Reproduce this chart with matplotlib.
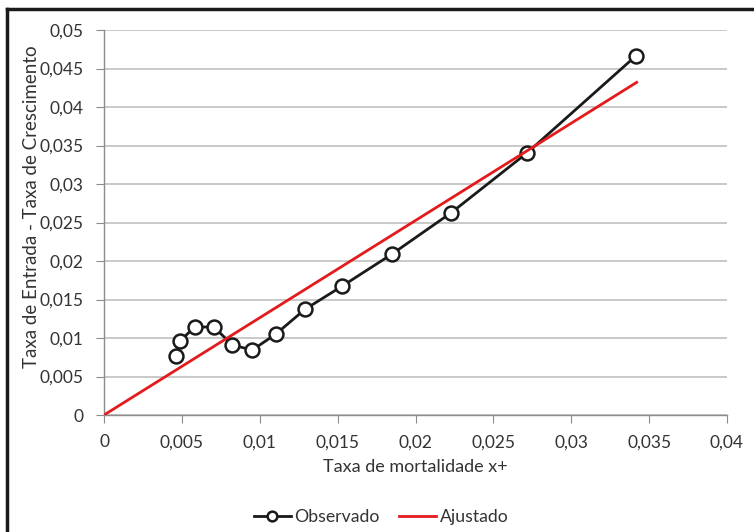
import matplotlib
matplotlib.use("Agg")
import matplotlib.pyplot as plt
from matplotlib.lines import Line2D

plt.rcParams['font.family'] = ['Lato', 'DejaVu Sans']

obs_x = [0.00462, 0.00488, 0.00584, 0.00708, 0.00824, 0.00952, 0.01104,
         0.0129, 0.0153, 0.01849, 0.0223, 0.02718, 0.03414]
obs_y = [0.00766, 0.0096, 0.01147, 0.01139, 0.00909, 0.00844, 0.01052,
         0.01372, 0.01675, 0.0209, 0.02628, 0.03407, 0.04662]
fit_x = [0.0, 0.0342]
fit_y = [0.0, 0.0432]

xticks = [0, 0.005, 0.01, 0.015, 0.02, 0.025, 0.03, 0.035, 0.04]
xtick_labels = ["0", "0,005", "0,01", "0,015", "0,02", "0,025", "0,03", "0,035", "0,04"]
yticks = [0, 0.005, 0.01, 0.015, 0.02, 0.025, 0.03, 0.035, 0.04, 0.045, 0.05]
ytick_labels = ["0", "0,005", "0,01", "0,015", "0,02", "0,025", "0,03", "0,035", "0,04", "0,045", "0,05"]

fig = plt.figure(figsize=(7.54, 5.32), dpi=100)
ax = fig.add_axes([104/754, 1-415/532, (727-104)/754, (415-30)/532])

ax.plot(obs_x, obs_y, color='#1a1a1a', lw=2.0, marker='o', ms=10,
        mfc='white', mec='#1a1a1a', mew=1.8, label='Observado', zorder=3)
ax.plot(fit_x, fit_y, color='#e41a1c', lw=2.0, label='Ajustado', zorder=4)

ax.set_xlim(0, 0.04)
ax.set_ylim(0, 0.05)
ax.set_xticks(xticks)
ax.set_xticklabels(xtick_labels)
ax.set_yticks(yticks)
ax.set_yticklabels(ytick_labels)
ax.yaxis.grid(True, color='#c0c0c0', lw=1.2)
ax.set_axisbelow(True)
for s in ['top', 'right']:
    ax.spines[s].set_visible(False)
for s in ['left', 'bottom']:
    ax.spines[s].set_color('#8c8c8c')
    ax.spines[s].set_linewidth(1.0)
ax.tick_params(axis='both', direction='out', length=6, color='#8c8c8c',
               labelsize=12.5, labelcolor='#333333')
ax.tick_params(axis='x', pad=8)
ax.tick_params(axis='y', pad=9)

ax.set_xlabel('Taxa de mortalidade x+', fontsize=13, color='#333333', va='center')
ax.set_ylabel('Taxa de Entrada - Taxa de Crescimento', fontsize=13.5, color='#333333', va='center')
ax.xaxis.set_label_coords((415 - 104) / 623, (415 - 467) / 385)
ax.yaxis.set_label_coords((32 - 104) / 623, (415 - 206.5) / 385)

leg = fig.legend(loc='center', bbox_to_anchor=(381/754, 1-517/532), ncol=2,
                 frameon=False, fontsize=12.7, handlelength=2.1, handletextpad=0.2,
                 columnspacing=1.1, markerscale=0.7)
for t in leg.get_texts():
    t.set_color('#333333')

fig.add_artist(Line2D([7/754, 1.0], [1-9/532, 1-9/532], color='#1a1a1a', lw=2.5,
                      transform=fig.transFigure))
fig.add_artist(Line2D([7/754, 7/754], [0.0, 1-9/532], color='#1a1a1a', lw=2.5,
                      transform=fig.transFigure))

fig.savefig('out.png', dpi=100)
